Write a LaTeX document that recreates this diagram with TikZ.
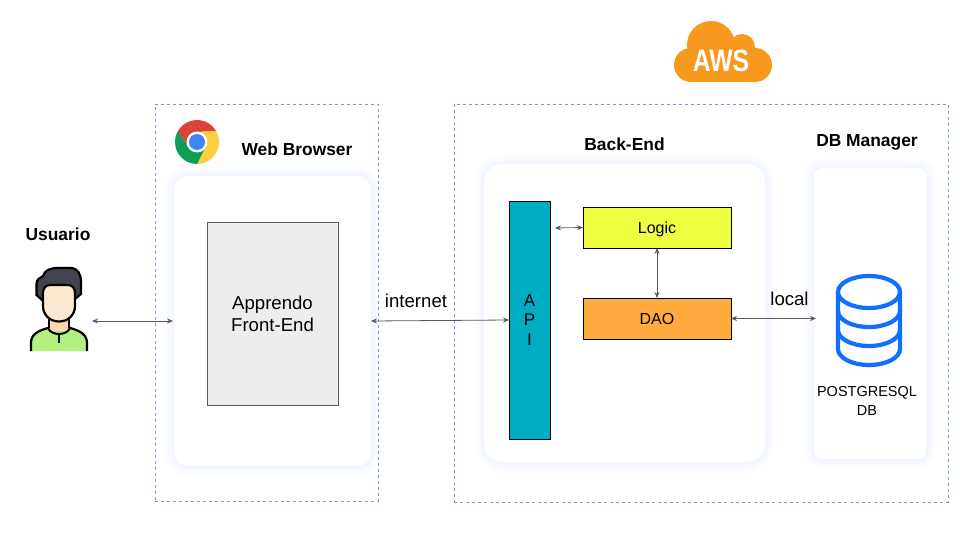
\documentclass[tikz,border=0pt]{standalone}
\usepackage{fontspec}
\setmainfont{Liberation Sans}
\usetikzlibrary{arrows.meta}
\definecolor{dashblue}{HTML}{6D9EEB}
\definecolor{glowblue}{HTML}{A8C4FF}
\definecolor{linegray}{HTML}{595959}
\definecolor{awsorange}{HTML}{F7981F}
\definecolor{dbblue}{HTML}{0F6FFF}
\definecolor{hairdark}{HTML}{43434F}
\definecolor{facetone}{HTML}{FDE8D2}
\definecolor{necktone}{HTML}{FFD5AE}
\definecolor{shirtgreen}{HTML}{B2F07F}
\tikzset{
  areabox/.style={draw=dashblue,dash pattern=on 3pt off 3pt,line width=0.8pt,inner sep=0pt,outer sep=0pt},
  panel/.style={fill=white,inner sep=0pt,outer sep=0pt,
    preaction={draw=glowblue,line width=20pt,opacity=0.03},
    preaction={draw=glowblue,line width=14pt,opacity=0.04},
    preaction={draw=glowblue,line width=8pt,opacity=0.05},
    preaction={draw=glowblue,line width=3pt,opacity=0.05}},
  block/.style={draw=black,line width=0.8pt,inner sep=0pt,outer sep=0pt,align=center,font=\fontsize{16}{18}\selectfont},
  title/.style={font=\fontsize{17.4}{20}\selectfont\bfseries,inner sep=0pt},
  plain/.style={font=\fontsize{18.6}{22}\selectfont,inner sep=0pt,align=center},
  link/.style={<->,>={Stealth[length=6pt,width=5pt]},draw=linegray,line width=0.8pt}
}
\begin{document}
\begin{tikzpicture}[x=1pt,y=-1pt]
\useasboundingbox[fill=white] (0,0) rectangle (960,540);
\node[areabox,minimum width=223pt,minimum height=397pt] (webarea) at (266.5,302.5) {};
\node[areabox,minimum width=494pt,minimum height=398pt] (awsarea) at (701,303) {};
\node[panel,rounded corners=14pt,minimum width=197pt,minimum height=290pt] (webpanel) at (272.5,321) {};
\node[panel,rounded corners=18pt,minimum width=281pt,minimum height=298pt] (backpanel) at (624.5,313) {};
\node[panel,rounded corners=8pt,minimum width=112pt,minimum height=291pt] (dbpanel) at (870,313.5) {};
\node[block,draw=black!65,fill=black!7,minimum width=131pt,minimum height=183pt,font=\fontsize{18.6}{22}\selectfont] (frontend) at (272.5,313.5) {Apprendo\\Front-End};
\node[block,fill={rgb,255:red,0;green,172;blue,193},minimum width=41pt,minimum height=238pt,font=\fontsize{17}{19.3}\selectfont] (api) at (529.5,320) {A\\P\\I};
\node[block,fill={rgb,255:red,238;green,255;blue,65},minimum width=148pt,minimum height=41pt,text height=12pt,text depth=0pt] (logic) at (657,227.5) {Logic};
\node[block,fill={rgb,255:red,255;green,171;blue,64},minimum width=148pt,minimum height=41pt,text height=12pt,text depth=0pt] (dao) at (657,318.5) {DAO};
\node[title] (usuariotext) at (58,234) {Usuario};
\node[title] (webtext) at (297,149) {Web Browser};
\node[title] (backtext) at (624.5,144) {Back-End};
\node[title] (dbtext) at (867,142) {DB Manager};
\node[plain] (internettext) at (416,301) {internet};
\node[plain] (localtext) at (789.5,299) {local};
\node[plain,font=\fontsize{14.5}{19}\selectfont] (postgrestext) at (867,401) {POSTGRESQL\\DB};
\coordinate (userport) at (92,321);
\coordinate (apiport) at (555,228);
\coordinate (dbport) at (816,318.5);
\coordinate (webport) at (173,321);
\draw[link] (userport) -- (webport);
\draw[link] (webpanel.east) -- (api.west);
\draw[link] (apiport) -- (logic.west);
\draw[link] (logic.south) -- (dao.north);
\draw[link] (dao.east) -- (dbport);
\fill[awsorange] (691,65) circle (17);
\fill[awsorange] (755,65) circle (17);
\fill[awsorange] (711,45) circle (24);
\fill[awsorange] (742,47) circle (13);
\fill[awsorange] (691,50) rectangle (755,82);
\node[text=white,font=\fontsize{31}{31}\selectfont\bfseries,xscale=0.8,inner sep=0pt] (awstext) at (721,60.5) {AWS};
\begin{scope}[shift={(197,142)},y=1pt]
\foreach \tone/\turn in {{rgb,255:red,219;green,68;blue,55}/0,{rgb,255:red,255;green,205;blue,64}/-120,{rgb,255:red,15;green,157;blue,88}/-240}
  \fill[fill=\tone,rotate=\turn] (150:22) arc (150:30:22) -- (90:10) -- (210:10) -- cycle;
\fill[white] (0,0) circle (10.5);
\fill[fill={rgb,255:red,66;green,133;blue,244}] (0,0) circle (8);
\end{scope}
\draw[dbblue,line width=4.2pt] (869,292) ellipse (31 and 16);
\draw[dbblue,line width=4.2pt] (838,292) -- (838,349) arc (180:0:31 and 16) -- (900,292);
\draw[dbblue,line width=4.2pt] (838,311) arc (180:0:31 and 16);
\draw[dbblue,line width=4.2pt] (838,330) arc (180:0:31 and 16);
\draw[fill=shirtgreen,line width=2.2pt] (31,351) -- (31,343) .. controls (31,335) and (37,331) .. (48,328) -- (70,328) .. controls (81,331) and (87,335) .. (87,343) -- (87,351);
\fill[necktone] (49,316) rectangle (69,331);
\draw[line width=2pt] (48,328) .. controls (51,336) and (67,336) .. (70,328);
\draw[line width=2pt] (58.5,334) -- (58.5,343);
\draw[line width=2pt] (49,318) -- (49,328) (69,318) -- (69,328);
\draw[fill=hairdark,line width=2.2pt] (42,300) -- (36.5,295) -- (36.5,284) .. controls (36.5,279) and (40,278) .. (43,276) .. controls (45,270) and (50,268) .. (58,268) -- (70,268) .. controls (78,268) and (81,274) .. (81,282) -- (81,294) -- (75,299) -- cycle;
\draw[fill=facetone,line width=2.2pt] (43,293) .. controls (43,288) and (46,285) .. (50,285) -- (68,285) .. controls (72,285) and (75,288) .. (75,293) -- (75,306) .. controls (75,315) and (68,321.5) .. (59,321.5) .. controls (50,321.5) and (43,315) .. (43,306) -- cycle;
\end{tikzpicture}
\end{document}
